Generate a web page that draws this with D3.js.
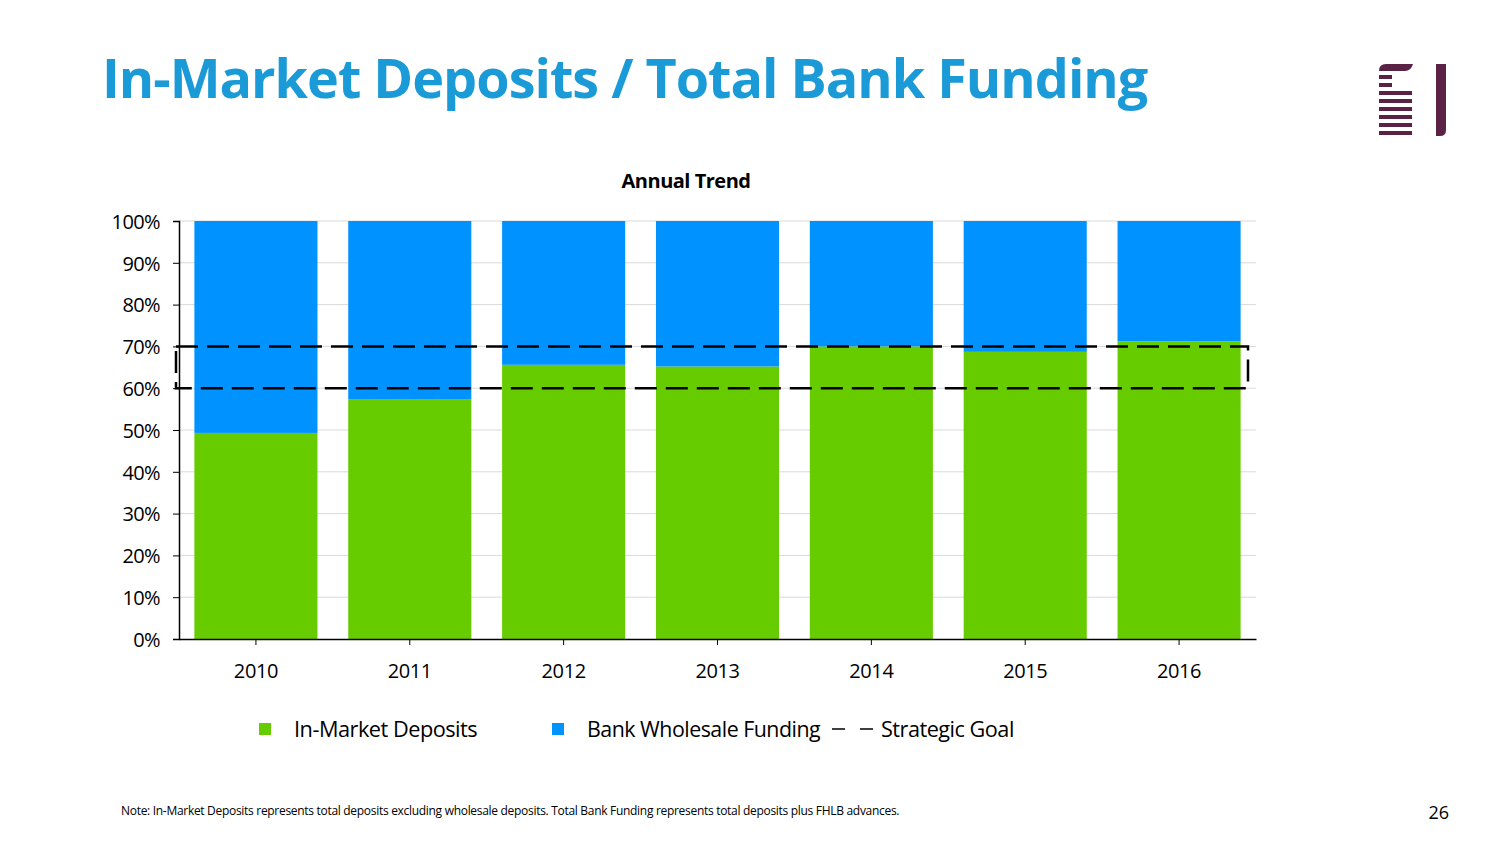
<!DOCTYPE html>
<html>
<head>
<meta charset="utf-8">
<script src="https://cdn.jsdelivr.net/npm/d3@7"></script>
<style>
  body { margin: 0; background: #fff; }
  svg { display: block; }
</style>
</head>
<body>
<div id="chart"></div>
<script>
// Chart data
const years = ["2010", "2011", "2012", "2013", "2014", "2015", "2016"];
const inMarket = [49.3, 57.4, 65.6, 65.2, 70.0, 68.7, 71.2];
const wholesale = inMarket.map(v => 100 - v);
const goalRange = [60, 70];
const yTicks = [0, 10, 20, 30, 40, 50, 60, 70, 80, 90, 100];

const seriesNames = ["In-Market Deposits", "Bank Wholesale Funding"];
const colors = ["#66cc00", "#0092ff"];

const W = 1504, H = 846;
const font = "'Open Sans', sans-serif";

const svg = d3.select("#chart").append("svg")
    .attr("width", W).attr("height", H)
    .style("font-family", font);

// shrink or stretch a text to a target width (font is not Calibri here)
function fitWidth(sel, target) {
    const w = sel.node().getComputedTextLength();
    const fs = parseFloat(sel.attr("font-size"));
    sel.attr("font-size", fs * target / w);
}

// Title
const title = svg.append("text")
    .attr("x", 102).attr("y", 98)
    .attr("fill", "#1a9ad6")
    .attr("font-weight", "bold")
    .attr("font-size", 52)
    .attr("letter-spacing", -1)
    .text("In-Market Deposits / Total Bank Funding");
fitWidth(title, 1044);

// Logo
const logo = svg.append("g").attr("fill", "#5a2345");
logo.append("path").attr("d", "M1379,71 Q1379,64 1386,64 L1413,64 Q1411,71 1405,71 Z");
[[75, 13], [83, 13], [91, 33], [99, 33], [107, 33], [115, 33], [123, 33], [131, 33]].forEach(([y, w]) => {
    logo.append("rect").attr("x", 1379).attr("y", y).attr("width", w).attr("height", 4);
});
logo.append("path").attr("d", "M1436,64 L1446,64 L1446,130 Q1446,136 1440,136 L1436,136 Z");

// Chart title
svg.append("text")
    .attr("x", 686).attr("y", 188)
    .attr("text-anchor", "middle")
    .attr("font-weight", "bold")
    .attr("font-size", 20)
    .attr("letter-spacing", -0.5)
    .text("Annual Trend");

// Scales
const x0 = 179, x1 = 1256, yTop = 221, yBot = 639;
const x = d3.scaleBand().domain(years).range([x0, x1]).paddingInner(0.2).paddingOuter(0.1);
const y = d3.scaleLinear().domain([0, 100]).range([yBot, yTop]);

// Gridlines
svg.append("g").selectAll("line")
    .data(yTicks.filter(d => d > 0))
    .join("line")
    .attr("x1", x0).attr("x2", x1)
    .attr("y1", d => y(d)).attr("y2", d => y(d))
    .attr("stroke", "#d9d9d9").attr("stroke-width", 1);

// Stacked bars
const rows = years.map((yr, i) => ({ year: yr, a: inMarket[i], b: wholesale[i] }));
const stack = d3.stack().keys(["a", "b"])(rows);
svg.append("g").selectAll("g")
    .data(stack)
    .join("g")
    .attr("fill", (d, i) => colors[i])
    .selectAll("rect")
    .data(d => d)
    .join("rect")
    .attr("x", d => x(d.data.year))
    .attr("width", x.bandwidth())
    .attr("y", d => y(d[1]))
    .attr("height", d => y(d[0]) - y(d[1]));

// Y axis
const yAxis = svg.append("g")
    .attr("transform", `translate(${x0},0)`)
    .call(d3.axisLeft(y).tickValues(yTicks).tickFormat(d => d + "%").tickSize(6).tickPadding(13));
yAxis.select(".domain").attr("stroke", "#000").attr("stroke-width", 1.5);
yAxis.selectAll(".tick line").attr("stroke", "#000");
yAxis.selectAll("text").attr("font-size", 20).attr("font-family", font).attr("fill", "#000")
    .attr("letter-spacing", -0.6).attr("dy", "0.36em");

// X axis
const xAxis = svg.append("g")
    .attr("transform", `translate(0,${yBot})`)
    .call(d3.axisBottom(x).tickSize(6).tickSizeOuter(0).tickPadding(19));
xAxis.select(".domain").attr("stroke", "#000").attr("stroke-width", 1.5);
xAxis.selectAll(".tick line").attr("stroke", "#000");
xAxis.selectAll("text").attr("font-size", 20).attr("font-family", font).attr("fill", "#000")
    .attr("letter-spacing", -0.4);

// Strategic goal box (dashed)
const gx0 = 176, gx1 = 1248;
svg.append("rect")
    .attr("x", gx0).attr("y", y(goalRange[1]))
    .attr("width", gx1 - gx0).attr("height", y(goalRange[0]) - y(goalRange[1]))
    .attr("fill", "none")
    .attr("stroke", "#000").attr("stroke-width", 2.5)
    .attr("stroke-dasharray", "22,9");

// Legend
const leg = svg.append("g").attr("font-size", 19).attr("letter-spacing", -0.5);
const legItems = [
    { x: 259, label: seriesNames[0], color: colors[0], w: 182 },
    { x: 552, label: seriesNames[1], color: colors[1], w: 232 }
];
legItems.forEach(it => {
    leg.append("rect").attr("x", it.x).attr("y", 723).attr("width", 12).attr("height", 12).attr("fill", it.color);
    const t = leg.append("text").attr("x", it.x + 35).attr("y", 737).attr("font-size", 19).text(it.label);
    fitWidth(t, it.w);
});
leg.append("line").attr("x1", 832).attr("x2", 873).attr("y1", 729).attr("y2", 729)
    .attr("stroke", "#000").attr("stroke-width", 1.5).attr("stroke-dasharray", "13,15");
const gl = leg.append("text").attr("x", 881).attr("y", 737).attr("font-size", 19).text("Strategic Goal");
fitWidth(gl, 132);

// Footnote and page number
const note = svg.append("text")
    .attr("x", 121).attr("y", 815)
    .attr("font-size", 11)
    .attr("letter-spacing", -0.3)
    .text("Note: In-Market Deposits represents total deposits excluding wholesale deposits. Total Bank Funding represents total deposits plus FHLB advances.");
fitWidth(note, 775);
svg.append("text")
    .attr("x", 1449).attr("y", 819)
    .attr("text-anchor", "end")
    .attr("font-size", 18)
    .text("26");
</script>
</body>
</html>
